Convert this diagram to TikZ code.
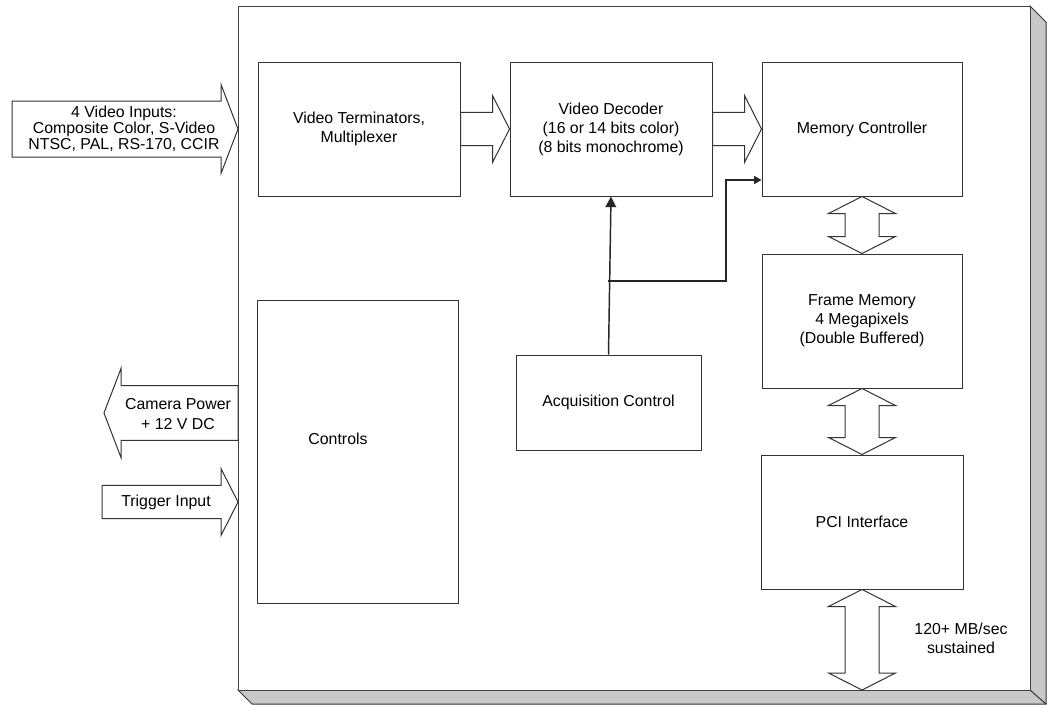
\documentclass[tikz,border=0pt]{standalone}
\usepackage{fontspec}
\setmainfont{Liberation Sans}
\usetikzlibrary{calc,arrows.meta}
\tikzset{every picture/.style={line width=0.75pt}}
\definecolor{shadegray}{HTML}{C8C8C8}
\tikzset{
  blk/.style={draw=black!80, fill=white, align=center, inner sep=0.75pt, font=\fontsize{11.9}{14.3}\selectfont},
  txt/.style={align=center, inner sep=0.75pt, font=\fontsize{11.9}{14.3}\selectfont},
  fat/.style={draw=black!80, fill=white, line join=miter},
  wire/.style={draw=black!85, line width=1.1pt},
}
% block arrow: #1 start, #2 tip, #3 half shaft, #4 half head
\newcommand{\fatarrow}[4]{%
  \coordinate (fa) at ($(#2)!12.75pt!(#1)$);
  \draw[fat] ($(#1)!#3!90:(#2)$) -- ($(fa)!#3!90:(#2)$) -- ($(fa)!#4!90:(#2)$) -- (#2)
    -- ($(fa)!#4!-90:(#2)$) -- ($(fa)!#3!-90:(#2)$) -- ($(#1)!#3!-90:(#2)$) -- cycle;
}
% two headed block arrow between #1 and #2
\newcommand{\dblarrow}[2]{%
  \coordinate (da) at ($(#1)!12.75pt!(#2)$);
  \coordinate (db) at ($(#2)!12.75pt!(#1)$);
  \draw[fat] (#1) -- ($(da)!25.1pt!90:(#2)$) -- ($(da)!12.75pt!90:(#2)$) -- ($(db)!12.75pt!90:(#2)$)
    -- ($(db)!25.1pt!90:(#2)$) -- (#2) -- ($(db)!25.1pt!-90:(#2)$) -- ($(db)!12.75pt!-90:(#2)$)
    -- ($(da)!12.75pt!-90:(#2)$) -- ($(da)!25.1pt!-90:(#2)$) -- cycle;
}

\begin{document}
\begin{tikzpicture}[x=0.75pt,y=0.75pt,yscale=-1,xscale=1]
\useasboundingbox (0,0) rectangle (1047,704);
% board and its shadow
\coordinate (bnw) at (238,6);
\coordinate (bse) at (1030,690);
\filldraw[fill=shadegray, draw=black!80] (bse |- bnw) -- ++(16,16) -- ($(bse)+(16,14)$) -- ($(bnw |- bse)+(14,14)$) -- (bnw |- bse) -- (bse) -- cycle;
\draw[black!80] (bse) -- ++(16,14);
\node[draw=black!75, fill=white, minimum width=594pt, minimum height=513pt, inner sep=0pt, outer sep=0pt] (board) at (634,348) {};
% blocks
\node[blk, minimum width=151.5pt, minimum height=100.5pt] (term) at (359,129) {Video Terminators,\\Multiplexer};
\node[blk, minimum width=151.5pt, minimum height=100.5pt] (dec) at (611,129) {Video Decoder\\(16 or 14 bits color)\\(8 bits monochrome)};
\node[blk, minimum width=150pt, minimum height=100.5pt] (memc) at (862,129) {Memory Controller};
\node[blk, minimum width=150pt, minimum height=100.5pt] (fmem) at (862,321) {Frame Memory\\4 Megapixels\\(Double Buffered)};
\node[blk, minimum width=151.5pt, minimum height=100.5pt] (pci) at (862,522) {PCI Interface};
\node[blk, minimum width=138.75pt, minimum height=71.25pt] (acq) at (608.5,402.5) {Acquisition Control};
\node[blk, minimum width=150.75pt, minimum height=227.25pt] (ctrl) at (357.5,451.5) {};
\node[txt] (ctrltxt) at (338,439) {Controls};
% outside ends
\coordinate (vin) at (12,129);
\coordinate (vintip) at (board.west |- term.west);
\coordinate (pwr) at (104,413);
\coordinate (trg) at (102,502);
\coordinate (pcibot) at (pci.south |- board.south);
% block arrows
\fatarrow{vin}{vintip}{21pt}{33.4pt}
\fatarrow{term.east}{dec.west}{12.4pt}{25.1pt}
\fatarrow{dec.east}{memc.west}{12.4pt}{25.1pt}
\fatarrow{board.west |- pwr}{pwr}{20.6pt}{33.4pt}
\fatarrow{trg}{board.west |- trg}{12.4pt}{25.1pt}
\dblarrow{memc.south}{fmem.north}
\dblarrow{fmem.south}{pci.north}
\dblarrow{pci.south}{pcibot}
% labels
\node[txt, font=\fontsize{11.9}{12}\selectfont] (vintxt) at (124,129) {4 Video Inputs:\\Composite Color, S-Video\\NTSC, PAL, RS-170, CCIR};
\node[txt] (pwrtxt) at (178,414) {Camera Power\\+ 12 V DC};
\node[txt] (trgtxt) at (166,502) {Trigger Input};
\node[txt] (ratetxt) at (961,638) {120+ MB/sec\\sustained};
% acquisition control lines
\coordinate (split) at (608,281);
\coordinate (bend) at (726,180);
\draw[wire, -{Triangle[length=8pt,width=8pt]}] (acq.north) -- (dec.south);
\draw[wire, -{Triangle[length=5.5pt,width=6pt]}] (split) -| (bend) -- (memc.west |- bend);
\end{tikzpicture}
\end{document}
